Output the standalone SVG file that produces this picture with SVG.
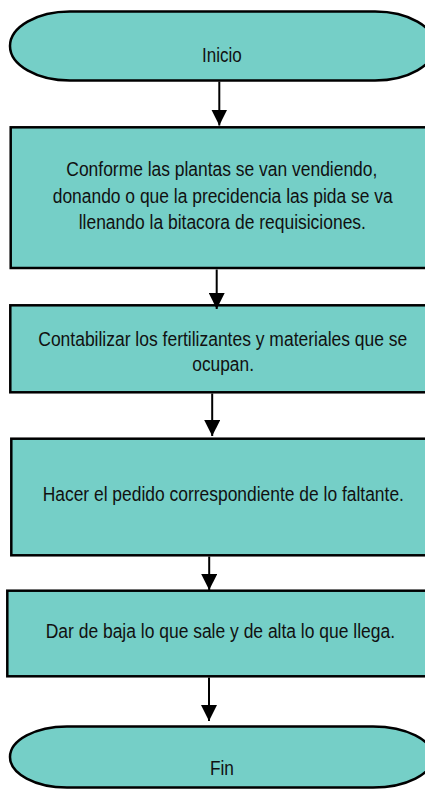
<svg xmlns="http://www.w3.org/2000/svg" width="425" height="789" viewBox="0 0 425 789">
  <defs>
    <style>
      .shape { fill: #75cfc7; stroke: #000; stroke-width: 2.5; }
      .lbl { font-family: "Liberation Sans", Arial, sans-serif; font-size: 21px; fill: #111; }
      .conn { stroke: #000; stroke-width: 2; fill: none; }
    </style>
    <marker id="arrow" markerUnits="userSpaceOnUse" viewBox="0 0 16 16" markerWidth="16" markerHeight="16" refX="16" refY="8" orient="auto">
      <path d="M0,0 L16,8 L0,16 Z" fill="#000"/>
    </marker>
  </defs>
  <rect width="425" height="789" fill="#fff"/>

  <g id="inicio">
    <path class="shape" d="M70,11.5 H375 A60,34.5 0 0 1 375,80.5 H70 A60,34.5 0 0 1 70,11.5 Z"/>
    <text class="lbl" transform="scale(0.83,1)" x="243.4" y="61.7" textLength="47.8" lengthAdjust="spacingAndGlyphs">Inicio</text>
  </g>

  <g id="paso1">
    <rect class="shape" x="10.7" y="127.3" width="417.3" height="140.7"/>
    <text class="lbl" transform="scale(0.83,1)" x="79.9" y="176.5" textLength="374.7" lengthAdjust="spacingAndGlyphs">Conforme las plantas se van vendiendo,</text>
    <text class="lbl" transform="scale(0.83,1)" x="63.5" y="202.7" textLength="409.6" lengthAdjust="spacingAndGlyphs">donando o que la precidencia las pida se va</text>
    <text class="lbl" transform="scale(0.83,1)" x="94.8" y="229" textLength="346.1" lengthAdjust="spacingAndGlyphs">llenando la bitacora de requisiciones.</text>
  </g>

  <g id="paso2">
    <rect class="shape" x="10.3" y="305.3" width="417.7" height="87"/>
    <text class="lbl" transform="scale(0.83,1)" x="46.1" y="346" textLength="444.6" lengthAdjust="spacingAndGlyphs">Contabilizar los fertilizantes y materiales que se</text>
    <text class="lbl" transform="scale(0.83,1)" x="231.7" y="371.3" textLength="74.3" lengthAdjust="spacingAndGlyphs">ocupan.</text>
  </g>

  <g id="paso3">
    <rect class="shape" x="11.3" y="438.7" width="416.7" height="116.6"/>
    <text class="lbl" transform="scale(0.83,1)" x="51.4" y="501" textLength="435.3" lengthAdjust="spacingAndGlyphs">Hacer el pedido correspondiente de lo faltante.</text>
  </g>

  <g id="paso4">
    <rect class="shape" x="7.3" y="590.7" width="420.7" height="85.6"/>
    <text class="lbl" transform="scale(0.83,1)" x="55.1" y="637.7" textLength="420.8" lengthAdjust="spacingAndGlyphs">Dar de baja lo que sale y de alta lo que llega.</text>
  </g>

  <g id="fin">
    <path class="shape" d="M67,726.5 H373 A60,30.5 0 0 1 373,787.5 H67 A57,30.5 0 0 1 67,726.5 Z"/>
    <text class="lbl" transform="scale(0.83,1)" x="253" y="775" textLength="28.9" lengthAdjust="spacingAndGlyphs">Fin</text>
  </g>

  <g id="connectors">
    <line class="conn" x1="219.3" y1="81.5" x2="219.3" y2="125.5" marker-end="url(#arrow)"/>
    <line class="conn" x1="216.7" y1="269.5" x2="216.7" y2="309" marker-end="url(#arrow)"/>
    <line class="conn" x1="212.2" y1="393.5" x2="212.2" y2="436" marker-end="url(#arrow)"/>
    <line class="conn" x1="209.2" y1="556.5" x2="209.2" y2="590" marker-end="url(#arrow)"/>
    <line class="conn" x1="209" y1="677.5" x2="209" y2="721" marker-end="url(#arrow)"/>
  </g>
</svg>
